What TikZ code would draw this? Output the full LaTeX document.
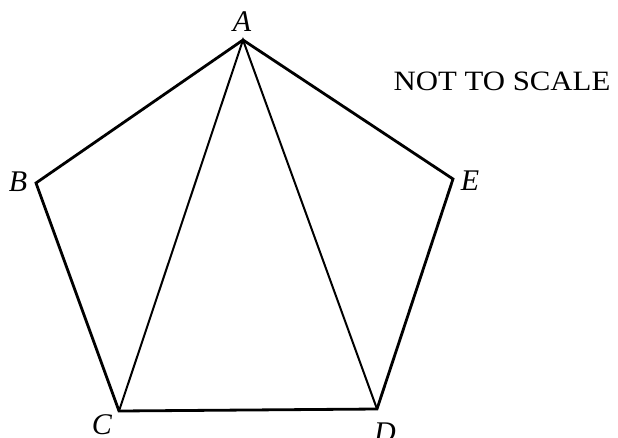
\documentclass[tikz,border=0pt]{standalone}
\usepackage{fontspec}
\setmainfont{Liberation Serif}
\begin{document}
\begin{tikzpicture}[x=1pt,y=-1pt,
  edge/.style={line width=2.8pt,line join=miter,line cap=round},
  diag/.style={line width=2pt},
  lbl/.style={inner sep=0pt,font=\fontsize{30}{32}\selectfont\itshape}]
\useasboundingbox (0,0) rectangle (618,437);
\coordinate (A) at (243,40);
\coordinate (B) at (36,183);
\coordinate (C) at (119,411);
\coordinate (D) at (377,409);
\coordinate (E) at (453,179);
\draw[edge] (A) -- (B) -- (C) -- (D) -- (E) -- cycle;
\draw[diag] (C) -- (A) -- (D);
\node[lbl] (la) at (242,22) {A};
\node[lbl] (lb) at (18,182) {B};
\node[lbl] (lc) at (102,425) {C};
\node[lbl] (ld) at (385,433) {D};
\node[lbl] (le) at (470,181) {E};
\node[inner sep=0pt,font=\fontsize{28}{30}\selectfont] (nts) at (502,81) {\scalebox{1.1}[1]{NOT TO SCALE}};
\end{tikzpicture}
\end{document}
